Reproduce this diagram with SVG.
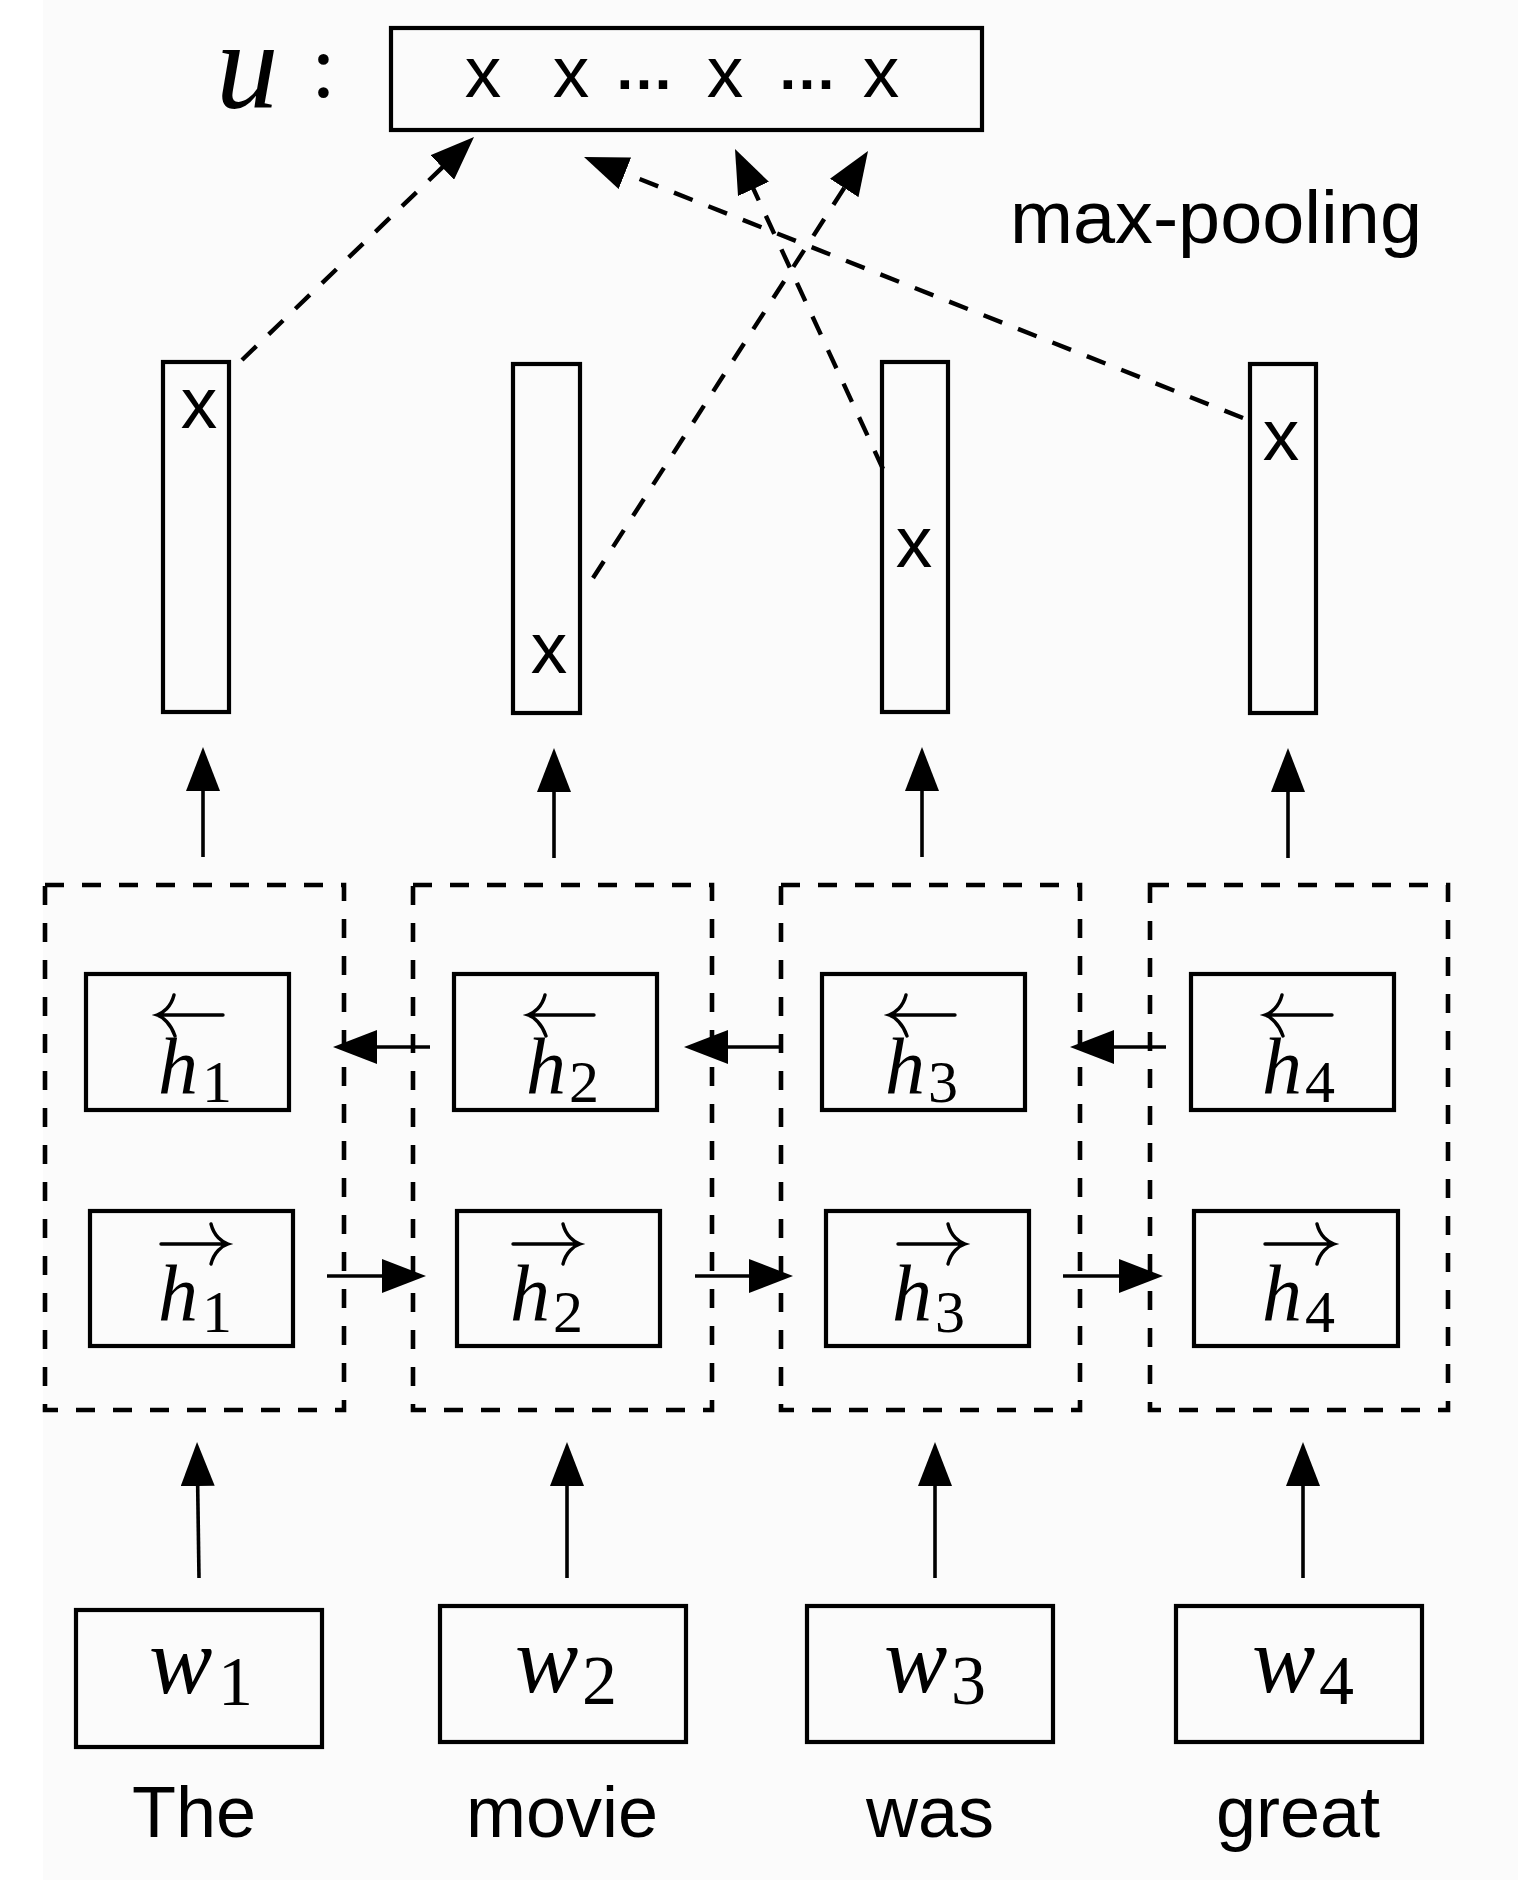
<svg xmlns="http://www.w3.org/2000/svg" width="1518" height="1888" viewBox="0 0 1518 1888">
<style>
.box{fill:none;stroke:#000;stroke-width:4.2}
.dbox{fill:none;stroke:#000;stroke-width:4.6;stroke-dasharray:19 18}
.arr{fill:none;stroke:#000;stroke-width:3.6}
.pool{fill:none;stroke:#000;stroke-width:4.4;stroke-dasharray:20 17}
.acc{fill:none;stroke:#000;stroke-width:3.4;stroke-linecap:round}
.sans{font-family:"Liberation Sans",Arial,sans-serif;fill:#000}
.mi{font-family:"Liberation Serif","Times New Roman",serif;font-style:italic;fill:#000}
.rm{font-family:"Liberation Serif","Times New Roman",serif;fill:#000}
.xs{font-size:73px;text-anchor:middle}
.lbl{font-size:72px;text-anchor:middle}
.hh{font-size:80px}
.hs{font-size:60px}
.ww{font-size:95px}
.ws{font-size:70px}
</style>
<defs>
<marker id="ah" markerUnits="userSpaceOnUse" markerWidth="44" markerHeight="34" refX="34" refY="17" orient="auto" viewBox="0 0 44 34">
<path d="M0,0 L44,17 L0,34 Z" fill="#000"/>
</marker>
</defs>
<rect x="0" y="0" width="1518" height="1888" fill="#fff"/>
<rect x="43" y="0" width="1475" height="1880" fill="#fbfbfb"/>

<g id="u-vector">
<text class="mi" x="216" y="108" font-size="125">u</text>
<text class="rm" x="311" y="97" font-size="90">:</text>
<rect class="box" x="391" y="28" width="591" height="102"/>
<text class="sans xs" x="483" y="97">x</text>
<text class="sans xs" x="571" y="97">x</text>
<text class="sans" x="644" y="89" font-size="60" font-weight="bold" text-anchor="middle">…</text>
<text class="sans xs" x="725" y="97">x</text>
<text class="sans" x="807" y="89" font-size="60" font-weight="bold" text-anchor="middle">…</text>
<text class="sans xs" x="881" y="97">x</text>
</g>

<g id="max-pooling-label">
<text class="sans" x="1010" y="243" font-size="74" textLength="412" lengthAdjust="spacingAndGlyphs">max-pooling</text>
</g>

<g id="hidden1">
<rect class="box" x="163" y="362" width="66" height="350"/>
<text class="sans xs" x="199" y="428">x</text>
</g>
<g id="hidden2">
<rect class="box" x="513" y="364" width="67" height="349"/>
<text class="sans xs" x="549" y="673">x</text>
</g>
<g id="hidden3">
<rect class="box" x="882" y="362" width="66" height="350"/>
<text class="sans xs" x="914" y="567">x</text>
</g>
<g id="hidden4">
<rect class="box" x="1250" y="364" width="66" height="349"/>
<text class="sans xs" x="1281" y="460">x</text>
</g>

<g id="cell1">
<rect class="dbox" x="45" y="885" width="299" height="525"/>
<g id="hb1">
<rect class="box" x="86" y="974" width="203" height="136"/>
<path class="acc" d="M223,1015 H157 M174,995 C171,1007 163,1013 157,1015 C163,1017 171,1024 175,1036"/>
<text class="mi hh" x="158" y="1093">h</text>
<text class="rm hs" x="202" y="1102">1</text>
</g>
<g id="hf1">
<rect class="box" x="90" y="1211" width="203" height="135"/>
<path class="acc" d="M161,1244 H228 M211,1224 C214,1236 222,1242 228,1244 C222,1246 214,1252 211,1264"/>
<text class="mi hh" x="158" y="1320">h</text>
<text class="rm hs" x="202" y="1332">1</text>
</g>
</g>

<g id="cell2">
<rect class="dbox" x="413" y="885" width="299" height="525"/>
<g id="hb2">
<rect class="box" x="454" y="974" width="203" height="136"/>
<path class="acc" d="M594,1015 H528 M545,995 C542,1007 534,1013 528,1015 C534,1017 542,1024 546,1036"/>
<text class="mi hh" x="526" y="1093">h</text>
<text class="rm hs" x="569" y="1102">2</text>
</g>
<g id="hf2">
<rect class="box" x="457" y="1211" width="203" height="135"/>
<path class="acc" d="M513,1244 H580 M563,1224 C566,1236 574,1242 580,1244 C574,1246 566,1252 563,1264"/>
<text class="mi hh" x="510" y="1320">h</text>
<text class="rm hs" x="553" y="1332">2</text>
</g>
</g>

<g id="cell3">
<rect class="dbox" x="781" y="885" width="299" height="525"/>
<g id="hb3">
<rect class="box" x="822" y="974" width="203" height="136"/>
<path class="acc" d="M955,1015 H889 M906,995 C903,1007 895,1013 889,1015 C895,1017 903,1024 907,1036"/>
<text class="mi hh" x="885" y="1093">h</text>
<text class="rm hs" x="928" y="1102">3</text>
</g>
<g id="hf3">
<rect class="box" x="826" y="1211" width="203" height="135"/>
<path class="acc" d="M898,1244 H965 M948,1224 C951,1236 959,1242 965,1244 C959,1246 951,1252 948,1264"/>
<text class="mi hh" x="892" y="1320">h</text>
<text class="rm hs" x="935" y="1332">3</text>
</g>
</g>

<g id="cell4">
<rect class="dbox" x="1150" y="885" width="298" height="525"/>
<g id="hb4">
<rect class="box" x="1191" y="974" width="203" height="136"/>
<path class="acc" d="M1332,1015 H1265 M1282,995 C1279,1007 1271,1013 1265,1015 C1271,1017 1279,1024 1283,1036"/>
<text class="mi hh" x="1262" y="1093">h</text>
<text class="rm hs" x="1305" y="1102">4</text>
</g>
<g id="hf4">
<rect class="box" x="1194" y="1211" width="204" height="135"/>
<path class="acc" d="M1265,1244 H1334 M1317,1224 C1320,1236 1328,1242 1334,1244 C1328,1246 1320,1252 1317,1264"/>
<text class="mi hh" x="1262" y="1320">h</text>
<text class="rm hs" x="1305" y="1332">4</text>
</g>
</g>

<g id="word1">
<rect class="box" x="76" y="1610" width="246" height="137"/>
<text class="mi ww" x="149" y="1693">w</text>
<text class="rm ws" x="218" y="1705">1</text>
<text class="sans lbl" x="194" y="1837">The</text>
</g>
<g id="word2">
<rect class="box" x="440" y="1606" width="246" height="136"/>
<text class="mi ww" x="515" y="1692">w</text>
<text class="rm ws" x="582" y="1704">2</text>
<text class="sans lbl" x="562" y="1837">movie</text>
</g>
<g id="word3">
<rect class="box" x="807" y="1606" width="246" height="136"/>
<text class="mi ww" x="884" y="1692">w</text>
<text class="rm ws" x="951" y="1704">3</text>
<text class="sans lbl" x="930" y="1837">was</text>
</g>
<g id="word4">
<rect class="box" x="1176" y="1606" width="246" height="136"/>
<text class="mi ww" x="1252" y="1692">w</text>
<text class="rm ws" x="1319" y="1704">4</text>
<text class="sans lbl" x="1298" y="1837">great</text>
</g>

<g id="connectors">
<line class="pool" x1="242" y1="360" x2="466.8" y2="143.9" marker-end="url(#ah)"/>
<line class="pool" x1="593" y1="578" x2="862.6" y2="159.4" marker-end="url(#ah)"/>
<line class="pool" x1="883" y1="469" x2="739.2" y2="158.1" marker-end="url(#ah)"/>
<line class="pool" x1="1243" y1="418" x2="593.3" y2="160.7" marker-end="url(#ah)"/>

<line class="arr" x1="203" y1="857" x2="203" y2="757" marker-end="url(#ah)"/>
<line class="arr" x1="554" y1="858" x2="554" y2="758" marker-end="url(#ah)"/>
<line class="arr" x1="922" y1="857" x2="922" y2="757" marker-end="url(#ah)"/>
<line class="arr" x1="1288" y1="858" x2="1288" y2="758" marker-end="url(#ah)"/>

<line class="arr" x1="430" y1="1047" x2="343" y2="1047" marker-end="url(#ah)"/>
<line class="arr" x1="781" y1="1047" x2="694" y2="1047" marker-end="url(#ah)"/>
<line class="arr" x1="1166" y1="1047" x2="1080" y2="1047" marker-end="url(#ah)"/>

<line class="arr" x1="327" y1="1276" x2="416" y2="1276" marker-end="url(#ah)"/>
<line class="arr" x1="695" y1="1276" x2="783" y2="1276" marker-end="url(#ah)"/>
<line class="arr" x1="1063" y1="1276" x2="1153" y2="1276" marker-end="url(#ah)"/>

<line class="arr" x1="199" y1="1578" x2="197.2" y2="1452" marker-end="url(#ah)"/>
<line class="arr" x1="567" y1="1578" x2="567" y2="1452" marker-end="url(#ah)"/>
<line class="arr" x1="935" y1="1578" x2="935" y2="1452" marker-end="url(#ah)"/>
<line class="arr" x1="1303" y1="1578" x2="1303" y2="1452" marker-end="url(#ah)"/>
</g>
</svg>
